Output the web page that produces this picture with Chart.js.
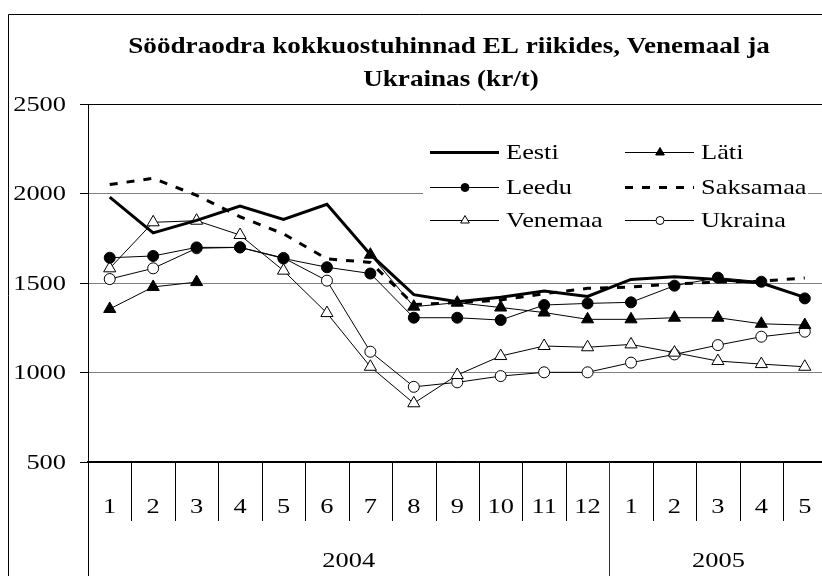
<!DOCTYPE html>
<html>
<head>
<meta charset="utf-8">
<script src="https://cdn.jsdelivr.net/npm/chart.js@4.4.1/dist/chart.umd.min.js"></script>
<style>
  html, body { margin: 0; padding: 0; overflow: hidden; background: #fff; }
  #wrap { position: absolute; left: 0; top: 0; width: 830px; height: 576px; }
</style>
</head>
<body>
<div id="wrap"><canvas id="chart" width="830" height="576"></canvas></div>
<script>
// months on the category axis, grouped by year
const months = ['1', '2', '3', '4', '5', '6', '7', '8', '9', '10', '11', '12', '1', '2', '3', '4', '5'];
const years = ['2004', '2005'];
const monthsPerYear = [12, 5];

const yTicks = [500, 1000, 1500, 2000, 2500];

// prices, kr/t
const eesti = [1980, 1780, 1850, 1930, 1855, 1940, 1660, 1435, 1395, 1420, 1455, 1425, 1520, 1535, 1520, 1500, 1420];
const lati = [1355, 1478, 1505, null, null, null, 1658, 1368, 1390, 1363, 1335, 1297, 1297, 1306, 1306, 1272, 1265];
const leedu = [1641, 1651, 1699, 1699, 1637, 1588, 1553, 1306, 1306, 1293, 1377, 1386, 1392, 1485, 1530, 1507, 1414];
const saksamaa = [2050, 2085, 1990, 1870, 1775, 1635, 1615, 1380, 1390, 1405, 1440, 1470, 1478, 1495, 1505, 1510, 1528];
const venemaa = [1582, 1839, 1848, 1768, 1569, 1332, 1032, 828, 986, 1092, 1148, 1141, 1157, 1111, 1064, 1047, 1032];
const ukraina = [1522, 1582, 1694, 1699, 1640, 1513, 1116, 920, 945, 980, 1001, 1001, 1055, 1101, 1153, 1200, 1228];

const titleLines = ['Söödraodra kokkuostuhinnad EL riikides, Venemaal ja', 'Ukrainas (kr/t)'];
const serif = '"Liberation Serif", "Times New Roman", serif';
const font = '22px ' + serif;
const stretch = 1.2; // the source picture is a bit wider than tall
const dash = [8, 9];

// text drawn slightly stretched sideways, like the original
function wideText(ctx, str, x, y, f, align, sx) {
  sx = sx || stretch;
  ctx.save();
  ctx.font = f;
  ctx.fillStyle = '#000';
  ctx.textAlign = 'left';
  ctx.textBaseline = 'middle';
  const w = ctx.measureText(str).width * sx;
  const left = align === 'center' ? x - w / 2 : align === 'right' ? x - w : x;
  ctx.translate(left, y);
  ctx.scale(sx, 1);
  ctx.fillText(str, 0, 0);
  ctx.restore();
}

function drawMarker(ctx, style, x, y, r, fill) {
  ctx.beginPath();
  if (style === 'triangle') {
    ctx.moveTo(x, y - r);
    ctx.lineTo(x + r * 0.866, y + r * 0.5);
    ctx.lineTo(x - r * 0.866, y + r * 0.5);
    ctx.closePath();
  } else if (style === 'circle') {
    ctx.arc(x, y, r, 0, Math.PI * 2);
  } else {
    return;
  }
  ctx.fillStyle = fill;
  ctx.fill();
  ctx.lineWidth = 1;
  ctx.strokeStyle = '#000';
  ctx.stroke();
}

const framePlugin = {
  id: 'frame',
  beforeDraw(chart) {
    const ctx = chart.ctx;
    ctx.save();
    ctx.fillStyle = '#fff';
    ctx.fillRect(0, 0, chart.width, chart.height);
    ctx.restore();
  },
  afterDraw(chart) {
    const { ctx, chartArea } = chart;
    const x = chart.scales.x;
    const y = chart.scales.y;
    ctx.save();

    // outer border
    ctx.strokeStyle = '#000';
    ctx.lineWidth = 1;
    ctx.beginPath();
    ctx.moveTo(8.5, 600);
    ctx.lineTo(8.5, 14.5);
    ctx.lineTo(900, 14.5);
    ctx.stroke();

    // title
    wideText(ctx, titleLines[0], 449, 47, 'bold 23px ' + serif, 'center', 1.18);
    wideText(ctx, titleLines[1], 451, 80, 'bold 23px ' + serif, 'center', 1.18);

    // y tick labels
    y.ticks.forEach(t => {
      wideText(ctx, String(t.value), chartArea.left - 22, y.getPixelForValue(t.value) + 1, font, 'right');
    });

    // axis line down to the bottom + month / year separators
    const left = Math.round(chartArea.left) + 0.5;
    const bottom = chartArea.bottom;
    ctx.strokeStyle = '#000';
    ctx.beginPath();
    ctx.moveTo(left, bottom);
    ctx.lineTo(left, 600);
    ctx.stroke();

    const step = x.getPixelForValue(1) - x.getPixelForValue(0);
    let count = 0;
    let yearIdx = 0;
    let yearStart = x.getPixelForValue(0) - step / 2;
    months.forEach((m, i) => {
      const cx = x.getPixelForValue(i);
      wideText(ctx, m, cx, 507, font, 'center');
      const sx = Math.round(cx + step / 2) + 0.5;
      count++;
      const yearEnd = count === monthsPerYear[yearIdx];
      ctx.strokeStyle = yearEnd ? '#333' : '#000';
      ctx.beginPath();
      ctx.moveTo(sx, bottom);
      ctx.lineTo(sx, yearEnd ? 600 : bottom + 59);
      ctx.stroke();
      if (yearEnd) {
        wideText(ctx, years[yearIdx], (yearStart + sx) / 2, 561, font, 'center');
        yearStart = sx;
        yearIdx++;
        count = 0;
      }
    });

    // legend inside the plot
    const legend = [
      { text: 'Eesti', width: 3, dash: [], marker: null, fill: '#000', col: 0, row: 0 },
      { text: 'Läti', width: 1, dash: [], marker: 'triangle', fill: '#000', col: 1, row: 0 },
      { text: 'Leedu', width: 1, dash: [], marker: 'circle', fill: '#000', col: 0, row: 1 },
      { text: 'Saksamaa', width: 3, dash: dash, marker: null, fill: '#000', col: 1, row: 1 },
      { text: 'Venemaa', width: 1, dash: [], marker: 'triangle', fill: '#fff', col: 0, row: 2 },
      { text: 'Ukraina', width: 1, dash: [], marker: 'circle', fill: '#fff', col: 1, row: 2 }
    ];
    ctx.fillStyle = '#fff';
    ctx.fillRect(423, 136, 385, 100);
    const colX = [430, 625];
    const rowY = [152, 187, 220];
    legend.forEach(item => {
      const lx = colX[item.col];
      const ly = rowY[item.row] + 0.5;
      ctx.setLineDash(item.dash);
      ctx.lineWidth = item.width;
      ctx.strokeStyle = '#000';
      ctx.beginPath();
      ctx.moveTo(lx, ly);
      ctx.lineTo(lx + 69, ly);
      ctx.stroke();
      ctx.setLineDash([]);
      drawMarker(ctx, item.marker, lx + 35, ly, item.marker === 'triangle' ? 5 : 4, item.fill);
      wideText(ctx, item.text, lx + 76, ly + 1, font, 'left');
    });

    ctx.restore();
  }
};

document.addEventListener('DOMContentLoaded', function () {
  const lineSet = (label, data, opts) => Object.assign({
    label: label,
    data: data,
    borderColor: '#000',
    borderWidth: 1,
    pointBorderColor: '#000',
    pointBorderWidth: 1,
    pointRadius: 0,
    tension: 0,
    spanGaps: false
  }, opts);

  new Chart(document.getElementById('chart'), {
    type: 'line',
    data: {
      labels: months,
      datasets: [
        lineSet('Eesti', eesti, { borderWidth: 3 }),
        lineSet('Läti', lati, { pointStyle: 'triangle', pointRadius: 7, pointBackgroundColor: '#000' }),
        lineSet('Leedu', leedu, { pointStyle: 'circle', pointRadius: 5.5, pointBackgroundColor: '#000' }),
        lineSet('Saksamaa', saksamaa, { borderWidth: 3, borderDash: dash }),
        lineSet('Venemaa', venemaa, { pointStyle: 'triangle', pointRadius: 7, pointBackgroundColor: '#fff' }),
        lineSet('Ukraina', ukraina, { pointStyle: 'circle', pointRadius: 5.5, pointBackgroundColor: '#fff' })
      ]
    },
    options: {
      responsive: false,
      animation: false,
      layout: { autoPadding: false, padding: { top: 104, right: 3.5, left: 0, bottom: 0 } },
      plugins: {
        legend: { display: false },
        title: { display: false },
        tooltip: { enabled: false }
      },
      scales: {
        x: {
          offset: true,
          grid: { display: false },
          border: { color: '#000', width: 1.5 },
          ticks: { display: false },
          afterFit: scale => {
            scale.height = 114;
            scale.paddingLeft = 0;
            scale.paddingRight = 0;
          }
        },
        y: {
          min: 500,
          max: 2500,
          afterBuildTicks: scale => { scale.ticks = yTicks.map(v => ({ value: v })); },
          grid: {
            color: ctx => (ctx.tick && (ctx.tick.value === 500 || ctx.tick.value === 2500)) ? '#000' : '#808080',
            tickLength: 8,
            tickColor: '#000'
          },
          border: { color: '#000', width: 1 },
          ticks: { display: false },
          afterFit: scale => {
            scale.width = 88;
            scale.paddingTop = 0;
            scale.paddingBottom = 0;
          }
        }
      }
    },
    plugins: [framePlugin]
  });
});
</script>
</body>
</html>
